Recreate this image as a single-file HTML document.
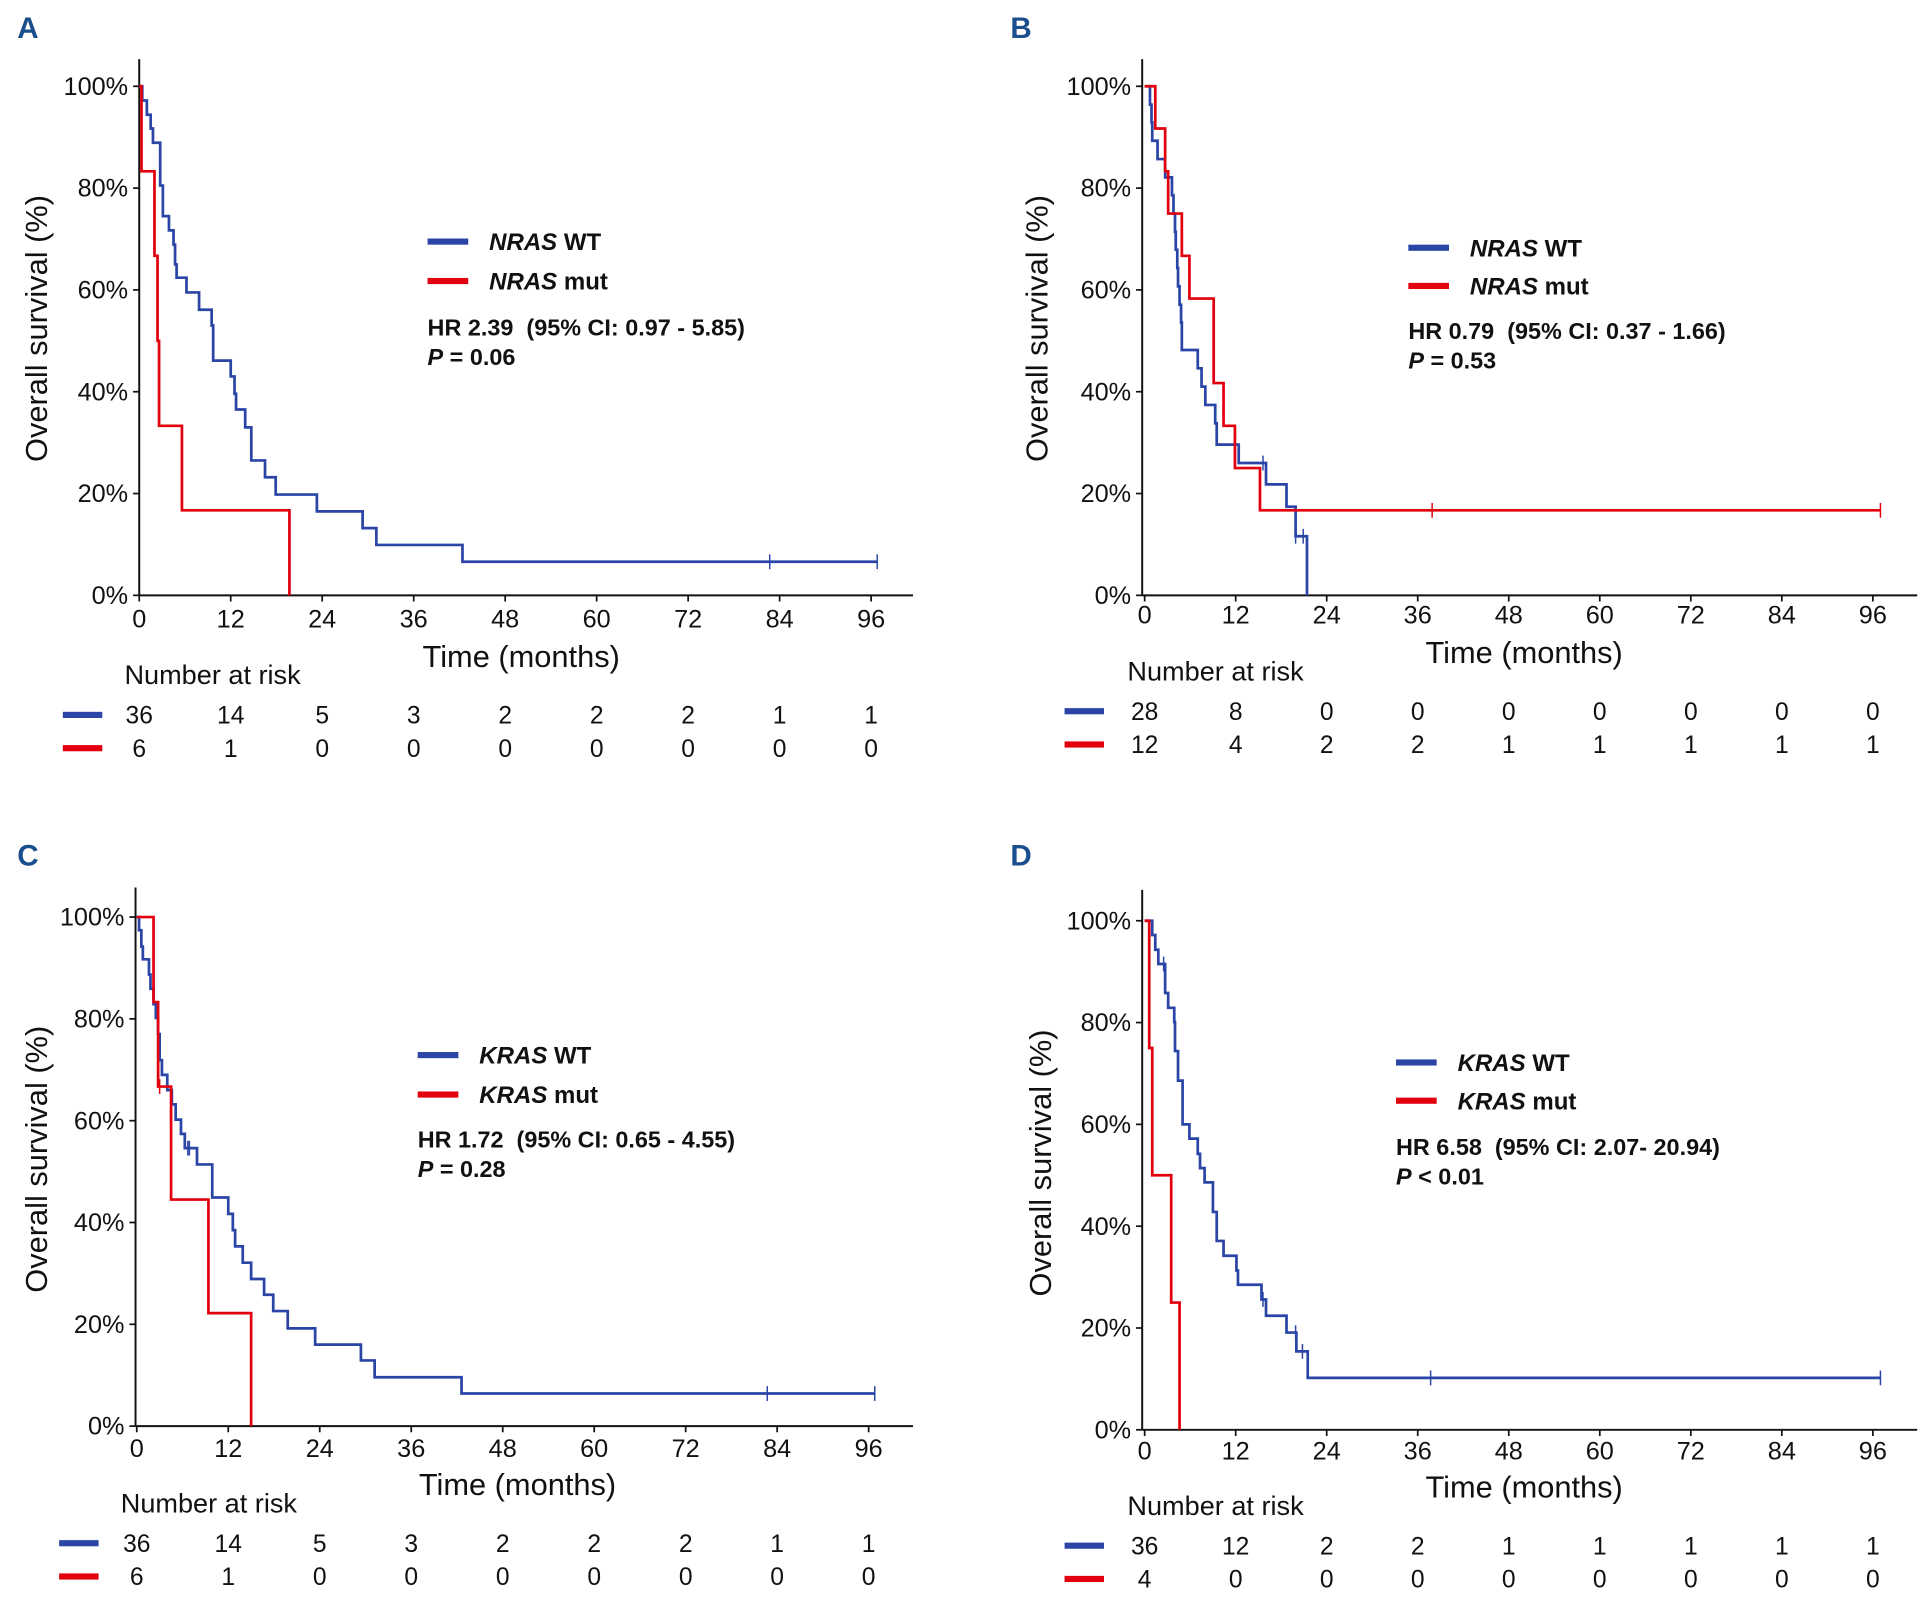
<!DOCTYPE html>
<html><head><meta charset="utf-8">
<style>
html,body{margin:0;padding:0;background:#fff;}
svg{display:block;}
text{font-family:"Liberation Sans",Arial,sans-serif;fill:#111;white-space:pre;}
.nar{font-family:"Liberation Sans Narrow","Liberation Sans",sans-serif;}
</style></head>
<body>
<svg id="fig" width="1932" height="1611" viewBox="0 0 1568 1307" preserveAspectRatio="none" xmlns="http://www.w3.org/2000/svg"></svg>
<script>
// ---- data arrays (months, survival %) ----
const xTicks = [0,12,24,36,48,60,72,84,96];
const yTicks = [0,20,40,60,80,100];
const yTickLabels = ["0%","20%","40%","60%","80%","100%"];

const aBlueT = [0.4,1.0,1.5,1.8,2.75,3.1,3.9,4.5,4.7,4.9,6.2,7.85,9.5,9.7,12.0,12.5,12.7,13.9,14.7,16.5,17.9,23.3,29.3,31.1,42.4];
const aBlueS = [97.2,94.4,91.7,88.9,80.5,74.5,71.7,68.9,65.0,62.4,59.5,56.1,53.0,46.1,43.0,39.6,36.5,33.0,26.5,23.2,19.8,16.5,13.2,9.9,6.6];
const aBlueEnd = 96.8; const aBlueCens = [82.7,96.8];
const aRedT = [0.3,2.0,2.4,2.6,5.6,19.7];
const aRedS = [83.3,66.7,50.0,33.3,16.7,0];
const aRedEnd = 19.7; const aRedCens = [];
const aRiskBlue = [36,14,5,3,2,2,2,1,1];
const aRiskRed = [6,1,0,0,0,0,0,0,0];

const bBlueT = [0.7,0.9,1.0,1.7,2.7,3.6,3.8,4.0,4.1,4.3,4.4,4.6,4.8,4.9,7.0,7.5,8.0,9.3,9.5,12.4,16.0,18.7,19.9,21.4];
const bBlueS = [96.4,92.9,89.3,85.7,82.1,78.6,75.0,71.4,67.9,64.3,60.7,57.1,53.6,48.2,44.6,41.0,37.4,33.8,29.6,26.0,21.8,17.4,11.6,0];
const bBlueEnd = 21.4; const bBlueCens = [15.6,19.9,20.9];
const bRedT = [1.4,2.7,3.1,4.9,5.9,9.1,10.4,11.9,15.2];
const bRedS = [91.7,83.3,75.0,66.7,58.3,41.7,33.3,25.0,16.7];
const bRedEnd = 97.0; const bRedCens = [37.9,97.0];
const bRiskBlue = [28,8,0,0,0,0,0,0,0];
const bRiskRed = [12,4,2,2,1,1,1,1,1];

const cBlueT = [0.3,0.6,0.8,1.6,1.8,2.2,2.5,2.8,3.0,3.3,4.0,4.6,5.1,5.8,6.3,7.9,9.9,12.0,12.6,12.9,13.9,15.0,16.7,17.9,19.8,23.4,29.4,31.2,42.6];
const cBlueS = [97.4,94.2,91.7,88.7,85.9,82.9,80.2,77.0,71.9,69.0,66.0,63.2,60.2,57.4,54.6,51.4,44.9,41.7,38.5,35.3,32.1,28.9,25.8,22.6,19.2,16.0,12.9,9.6,6.4];
const cBlueEnd = 96.8; const cBlueCens = [6.7,6.9,82.7,96.8];
const cRedT = [2.2,2.8,4.5,9.4,15.0];
const cRedS = [83.3,66.7,44.5,22.2,0];
const cRedEnd = 15.0; const cRedCens = [3.0];
const cRiskBlue = [36,14,5,3,2,2,2,1,1];
const cRiskRed = [6,1,0,0,0,0,0,0,0];

const dBlueT = [1.0,1.4,1.8,2.7,3.1,3.9,4.0,4.4,5.0,5.9,7.0,7.3,7.9,9.0,9.5,10.4,12.1,12.3,15.4,16.0,18.7,20.0,21.5];
const dBlueS = [97.2,94.3,91.5,85.8,82.9,80.1,74.4,68.6,60.0,57.2,54.2,51.4,48.6,42.8,37.1,34.2,31.3,28.5,25.6,22.4,19.1,15.4,10.2];
const dBlueEnd = 97.0; const dBlueCens = [2.5,15.6,19.9,20.8,37.7,97.0];
const dRedT = [0.6,1.0,3.5,4.6];
const dRedS = [75.0,50.0,25.0,0];
const dRedEnd = 4.6; const dRedCens = [];
const dRiskBlue = [36,12,2,2,1,1,1,1,1];
const dRiskRed = [4,0,0,0,0,0,0,0,0];

// ---- layout ----
const BLUE = "#2a45a6", RED = "#e2000f", NS = "http://www.w3.org/2000/svg";
const svg = document.getElementById("fig");
function mk(tag, attrs, parent, txt){
  const e = document.createElementNS(NS, tag);
  for (const k in attrs) e.setAttribute(k, attrs[k]);
  if (txt !== undefined) e.textContent = txt;
  (parent || svg).appendChild(e); return e;
}

const panels = [
 {id:"a", letter:"A", lx:22, ly:22, ax:113, x0:113, x96:707, top:48, y0:483, y100:70, right:741, tickY:502, titleY:533, titleX:423, ytX:30,
  legX:347, legY1:196, legY2:228, hrY:265, pY:289, narY:548, narX:101, r1:580, r2:607, lineX:51, gene:"NRAS",
  hr:"HR 2.39  (95% CI: 0.97 - 5.85)", p:" = 0.06", blueT:aBlueT, blueS:aBlueS, blueEnd:aBlueEnd, blueC:aBlueCens, redT:aRedT, redS:aRedS, redEnd:aRedEnd, redC:aRedCens, rb:aRiskBlue, rr:aRiskRed},
 {id:"b", letter:"B", lx:828, ly:22, ax:927, x0:929, x96:1520, top:48, y0:483, y100:70, right:1556, tickY:499, titleY:530, titleX:1237, ytX:842,
  legX:1143, legY1:201, legY2:232, hrY:268, pY:292, narY:545, narX:915, r1:577, r2:604, lineX:864, gene:"NRAS",
  hr:"HR 0.79  (95% CI: 0.37 - 1.66)", p:" = 0.53", blueT:bBlueT, blueS:bBlueS, blueEnd:bBlueEnd, blueC:bBlueCens, redT:bRedT, redS:bRedS, redEnd:bRedEnd, redC:bRedCens, rb:bRiskBlue, rr:bRiskRed},
 {id:"c", letter:"C", lx:22, ly:693, ax:110, x0:111, x96:705, top:720, y0:1157, y100:744, right:741, tickY:1175, titleY:1205, titleX:420, ytX:30,
  legX:339, legY1:856, legY2:888, hrY:924, pY:948, narY:1220, narX:98, r1:1252, r2:1279, lineX:48, gene:"KRAS",
  hr:"HR 1.72  (95% CI: 0.65 - 4.55)", p:" = 0.28", blueT:cBlueT, blueS:cBlueS, blueEnd:cBlueEnd, blueC:cBlueCens, redT:cRedT, redS:cRedS, redEnd:cRedEnd, redC:cRedCens, rb:cRiskBlue, rr:cRiskRed},
 {id:"d", letter:"D", lx:828, ly:693, ax:927, x0:929, x96:1520, top:722, y0:1160, y100:747, right:1556, tickY:1177, titleY:1207, titleX:1237, ytX:845,
  legX:1133, legY1:862, legY2:893, hrY:930, pY:954, narY:1222, narX:915, r1:1254, r2:1281, lineX:864, gene:"KRAS",
  hr:"HR 6.58  (95% CI: 2.07- 20.94)", p:" < 0.01", blueT:dBlueT, blueS:dBlueS, blueEnd:dBlueEnd, blueC:dBlueCens, redT:dRedT, redS:dRedS, redEnd:dRedEnd, redC:dRedCens, rb:dRiskBlue, rr:dRiskRed}
];

panels.forEach(P => {
  const xs = m => P.x0 + (P.x96 - P.x0) * m / 96;
  const ys = s => P.y0 + (P.y100 - P.y0) * s / 100;
  const g = mk("g", {});
  
  

  const lt = mk("text", {x:P.lx - 8, y:P.ly + 9, "font-size":24, "font-weight":"bold", style:"fill:#1b4e8c"}, g, P.letter);
  
  

  const ya = mk("line", {x1:P.ax, y1:P.top, x2:P.ax, y2:P.y0, stroke:"#111", "stroke-width":1.6}, g);
  
  
  const xa = mk("line", {x1:P.ax, y1:P.y0, x2:P.right, y2:P.y0, stroke:"#111", "stroke-width":1.6}, g);
  
  

  xTicks.forEach(t => {
    mk("line", {x1:xs(t), y1:P.y0, x2:xs(t), y2:P.y0 + 5, stroke:"#111", "stroke-width":1.4}, g);
    const tl = mk("text", {x:xs(t), y:P.tickY + 7, "font-size":20.5, "text-anchor":"middle", class:"nar"}, g, String(t));
    
    
  });
  yTicks.forEach((t, i) => {
    mk("line", {x1:P.ax - 5, y1:ys(t), x2:P.ax, y2:ys(t), stroke:"#111", "stroke-width":1.4}, g);
    const tl = mk("text", {x:P.ax - 9, y:ys(t) + 7, "font-size":20.5, "text-anchor":"end", class:"nar"}, g, yTickLabels[i]);
    
    
  });

  const xt = mk("text", {x:P.titleX, y:P.titleY + 8, "font-size":25, "text-anchor":"middle"}, g, "Time (months)");
  
  
  const ymid = (P.y0 + P.y100) / 2 - 10;
  const yt = mk("text", {x:0, y:0, "font-size":25, "text-anchor":"middle", transform:`translate(${P.ytX + 8},${ymid}) rotate(-90)`}, g, "Overall survival (%)");
  
  

  function curve(T, S, end, cens, color, name){
    let d = `M${xs(0)},${ys(100)}`;
    for (let i = 0; i < T.length; i++){ d += ` H${xs(T[i])} V${ys(S[i])}`; }
    d += ` H${xs(end)}`;
    const p = mk("path", {d:d, fill:"none", stroke:color, "stroke-width":2.2}, g);
    
    
    cens.forEach(c => {
      let s = 100;
      for (let i = 0; i < T.length; i++) if (T[i] <= c) s = S[i];
      const cm = mk("line", {x1:xs(c), y1:ys(s) - 6, x2:xs(c), y2:ys(s) + 6, stroke:color, "stroke-width":1.2}, g);
      
      
    });
  }
  curve(P.blueT, P.blueS, P.blueEnd, P.blueC, BLUE, 'wt-curve');
  curve(P.redT, P.redS, P.redEnd, P.redC, RED, 'mut-curve');

  [[P.legY1, BLUE, " WT", "legend-wt"], [P.legY2, RED, " mut", "legend-mut"]].forEach(L => {
    const lg = mk("g", {}, g);
    
    
    mk("rect", {x:P.legX, y:L[0] - 2.5, width:33, height:5, fill:L[1]}, lg);
    const tx = mk("text", {x:P.legX + 50, y:L[0] + 7, "font-size":19.5, "font-weight":"bold"}, lg);
    mk("tspan", {"font-style":"italic"}, tx, P.gene);
    mk("tspan", {}, tx, L[2]);
  });
  const hr = mk("text", {x:P.legX, y:P.hrY + 7, "font-size":19, "font-weight":"bold"}, g, P.hr);
  
  
  const pv = mk("text", {x:P.legX, y:P.pY + 7, "font-size":19, "font-weight":"bold"}, g);
  
  
  mk("tspan", {"font-style":"italic"}, pv, "P");
  mk("tspan", {}, pv, P.p);

  const nt = mk("text", {x:P.narX, y:P.narY + 7, "font-size":22, class:"nar"}, g, "Number at risk");
  
  
  [[P.r1, BLUE, P.rb, 'risk-row-wt'], [P.r2, RED, P.rr, 'risk-row-mut']].forEach(R => {
    const rg = mk("g", {}, g);
    
    
    mk("rect", {x:P.lineX, y:R[0] - 2.5, width:32, height:5, fill:R[1]}, rg);
    R[2].forEach((v, i) => {
      mk("text", {x:xs(xTicks[i]), y:R[0] + 7, "font-size":20, "text-anchor":"middle", class:"nar"}, rg, String(v));
    });
  });
});
</script>
</body></html>
